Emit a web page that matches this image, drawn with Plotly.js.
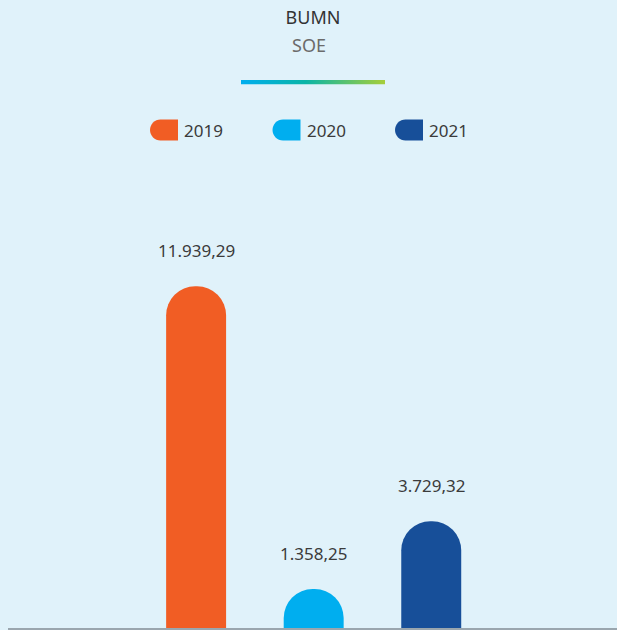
<!DOCTYPE html>
<html>
<head>
<meta charset="utf-8">
<script src="https://cdn.plot.ly/plotly-3.0.1.min.js"></script>
<style>
  html, body { margin: 0; padding: 0; background: #e0f2fa; }
  #chart { width: 617px; height: 630px; }
</style>
</head>
<body>
<div id="chart"></div>
<script>
// data
var years = ['2019', '2020', '2021'];
var values = [11939.29, 1358.25, 3729.32];
var colors = ['#f15d24', '#00aeef', '#174f99'];
var titleMain = 'BUMN';
var titleSub = 'SOE';

// indonesian number format: 11.939,29
function fmtID(v) {
    var parts = v.toFixed(2).split('.');
    return parts[0].replace(/\B(?=(\d{3})+(?!\d))/g, '.') + ',' + parts[1];
}

var W = 617, H = 630;
var M = {l: 8, r: 0, t: 170, b: 2};
var plotH = H - M.t - M.b;
var plotW = W - M.l - M.r;
// pixel -> paper helpers (for things outside the plot area)
function px(x) { return (x - M.l) / plotW; }
function py(y) { return (H - M.b - y) / plotH; }

var trace = {
    type: 'bar',
    x: years,
    y: values,
    width: 0.51,
    marker: {color: colors},
    hovertemplate: '%{x}: %{y:,.2f}<extra></extra>'
};

var annotations = [];
var shapes = [];

// value labels above bars (x as category index)
for (var i = 0; i < years.length; i++) {
    annotations.push({
        x: i, y: values[i], xref: 'x', yref: 'y',
        xanchor: 'center', yanchor: 'middle',
        text: fmtID(values[i]),
        showarrow: false, yshift: 36,
        font: {size: 17, color: '#3b3b3b'}
    });
}

// subtitle
annotations.push({
    xref: 'paper', yref: 'paper', x: px(308.5), y: py(45),
    xanchor: 'center', yanchor: 'middle',
    text: titleSub, showarrow: false,
    font: {size: 18, color: '#6b6b6b'}
});

// custom legend: pill marker (rounded left side) + year text
var legendLeft = 150, legendStep = 122.5, legendY = 130;
for (var j = 0; j < years.length; j++) {
    var x0 = legendLeft + j * legendStep;
    shapes.push({
        type: 'path',
        xref: 'paper', yref: 'paper',
        xsizemode: 'pixel', ysizemode: 'pixel',
        xanchor: px(x0), yanchor: py(legendY),
        path: 'M 10.5,10.5 L 28,10.5 L 28,-10.5 L 10.5,-10.5 C 4.7,-10.5 0,-5.8 0,0 C 0,5.8 4.7,10.5 10.5,10.5 Z',
        fillcolor: colors[j],
        line: {width: 0}
    });
    annotations.push({
        xref: 'paper', yref: 'paper', x: px(x0 + 32), y: py(legendY),
        xanchor: 'left', yanchor: 'middle',
        text: years[j], showarrow: false,
        font: {size: 17, color: '#3b3b3b'}
    });
}

// gradient underline under the title
var gradSvg = '<svg xmlns="http://www.w3.org/2000/svg" width="144" height="5" preserveAspectRatio="none">' +
    '<defs><linearGradient id="g" x1="0" x2="1" y1="0" y2="0">' +
    '<stop offset="0" stop-color="#00aeef"/>' +
    '<stop offset="0.45" stop-color="#0bb5a6"/>' +
    '<stop offset="1" stop-color="#a6ce39"/>' +
    '</linearGradient></defs><rect width="144" height="5" fill="url(#g)"/></svg>';

var layout = {
    width: W,
    height: H,
    margin: M,
    paper_bgcolor: '#e0f2fa',
    plot_bgcolor: '#e0f2fa',
    font: {family: '"Noto Sans", "Open Sans", sans-serif', color: '#3b3b3b'},
    title: {
        text: titleMain,
        x: 313 / W, xanchor: 'center',
        y: 1 - 18 / H, yanchor: 'middle', yref: 'container',
        font: {size: 18, color: '#333333'}
    },
    showlegend: false,
    barcornerradius: 30,
    xaxis: {
        type: 'category',
        range: [-1.6, 3.58],
        showticklabels: false,
        showgrid: false,
        zeroline: false,
        showline: true,
        linecolor: '#9aa6ae',
        linewidth: 1.5,
        fixedrange: true
    },
    yaxis: {
        range: [0, 16000],
        visible: false,
        fixedrange: true
    },
    annotations: annotations,
    shapes: shapes,
    images: [{
        source: 'data:image/svg+xml;charset=utf-8,' + encodeURIComponent(gradSvg),
        xref: 'paper', yref: 'paper',
        x: px(241), y: py(80),
        sizex: 144 / plotW, sizey: 4.5 / plotH,
        xanchor: 'left', yanchor: 'top',
        sizing: 'stretch', layer: 'above'
    }]
};

Plotly.newPlot('chart', [trace], layout, {displayModeBar: false});
</script>
</body>
</html>
